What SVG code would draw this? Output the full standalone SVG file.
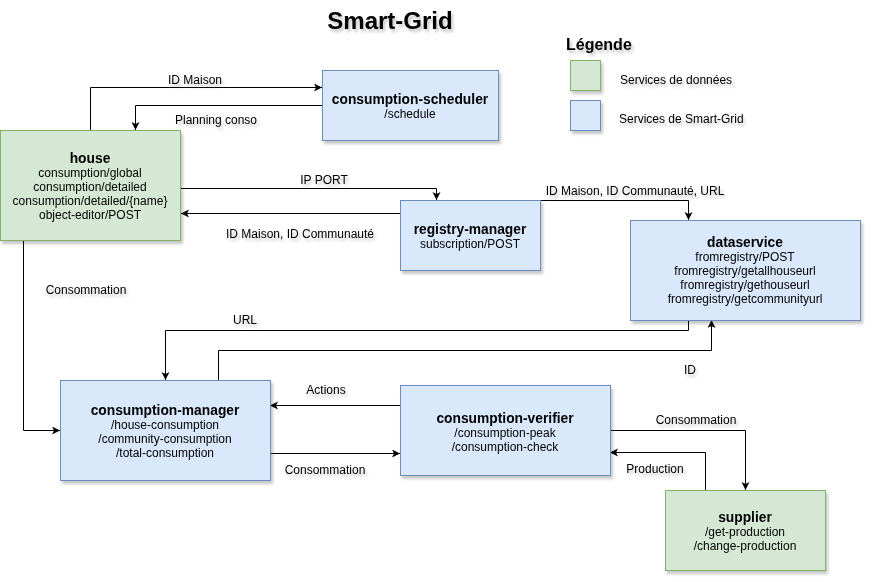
<svg xmlns="http://www.w3.org/2000/svg" width="872" height="582" viewBox="0 0 872 582">
<defs>
<filter id="sh" x="-10%" y="-10%" width="130%" height="140%">
<feDropShadow dx="2" dy="3" stdDeviation="1.5" flood-color="#000" flood-opacity="0.22"/>
</filter>
<marker id="arr" markerWidth="10" markerHeight="10" refX="8" refY="4" orient="auto" markerUnits="userSpaceOnUse">
<path d="M0,0 L8,4 L0,8 L2,4 z" fill="#000"/>
</marker>
</defs>
<style>
.blue{fill:#dae8fc;stroke:#6c8ebf;stroke-width:1}
.green{fill:#d5e8d4;stroke:#82b366;stroke-width:1}
text{font-family:"Liberation Sans",Arial,sans-serif;fill:#000}
.t{font-size:13.8px;font-weight:bold;text-anchor:middle}
.s{font-size:12px;text-anchor:middle}
.lb{font-size:12px;text-anchor:middle}
.leg{font-size:12px}
.e{fill:none;stroke:#000;stroke-width:1;marker-end:url(#arr)}
.shd{filter:url(#sh)}
</style>
<rect width="872" height="582" fill="#fff"/>
<g class="shd">
<text x="390" y="29" style="font-size:24px;font-weight:bold;text-anchor:middle">Smart-Grid</text>
</g>
<g id="legend" class="shd">
<text x="566" y="50" style="font-size:16px;font-weight:bold">Légende</text>
<rect class="green" x="570.5" y="60.5" width="30" height="30"/>
<rect class="blue" x="570.5" y="100.5" width="30" height="30"/>
<text class="leg" x="620" y="84">Services de données</text>
<text class="leg" x="619" y="123">Services de Smart-Grid</text>
</g>
<g id="connectors">
<path class="e" d="M90.5,130 V87.5 H322"/>
<path class="e" d="M322,105.5 H135.5 V130"/>
<path class="e" d="M181,188.5 H436.5 V200"/>
<path class="e" d="M400,213.5 H181"/>
<path class="e" d="M540,200.5 H688.5 V220"/>
<path class="e" d="M688.5,320 V330.5 H165.5 V380"/>
<path class="e" d="M218.5,380 V350.5 H711.5 V320"/>
<path class="e" d="M23.5,241 V430.5 H60"/>
<path class="e" d="M400,405.5 H270"/>
<path class="e" d="M270,453.5 H400"/>
<path class="e" d="M610,430.5 H745.5 V490"/>
<path class="e" d="M705.5,490 V452.5 H610"/>
<g class="shd">
<text class="lb" x="195" y="84">ID Maison</text>
<text class="lb" x="216" y="124">Planning conso</text>
<text class="lb" x="324" y="184">IP PORT</text>
<text class="lb" x="300" y="238">ID Maison, ID Communauté</text>
<text class="lb" x="635" y="195">ID Maison, ID Communauté, URL</text>
<text class="lb" x="86" y="294">Consommation</text>
<text class="lb" x="245" y="324">URL</text>
<text class="lb" x="690" y="374">ID</text>
<text class="lb" x="326" y="394">Actions</text>
<text class="lb" x="325" y="474">Consommation</text>
<text class="lb" x="696" y="424">Consommation</text>
<text class="lb" x="655" y="473">Production</text>
</g>
</g>
<g id="house" class="shd">
<rect class="green" x="0.5" y="130.5" width="180" height="110"/>
<text class="t" x="90" y="163">house</text>
<text class="s" x="90" y="177">consumption/global</text>
<text class="s" x="90" y="191">consumption/detailed</text>
<text class="s" x="90" y="205">consumption/detailed/{name}</text>
<text class="s" x="90" y="219">object-editor/POST</text>
</g>
<g id="consumption-scheduler" class="shd">
<rect class="blue" x="322.5" y="70.5" width="176" height="70"/>
<text class="t" x="410" y="104">consumption-scheduler</text>
<text class="s" x="410" y="118">/schedule</text>
</g>
<g id="registry-manager" class="shd">
<rect class="blue" x="400.5" y="200.5" width="140" height="70"/>
<text class="t" x="470" y="234">registry-manager</text>
<text class="s" x="470" y="248">subscription/POST</text>
</g>
<g id="dataservice" class="shd">
<rect class="blue" x="630.5" y="220.5" width="230" height="100"/>
<text class="t" x="745" y="247">dataservice</text>
<text class="s" x="745" y="261">fromregistry/POST</text>
<text class="s" x="745" y="275">fromregistry/getallhouseurl</text>
<text class="s" x="745" y="289">fromregistry/gethouseurl</text>
<text class="s" x="745" y="303">fromregistry/getcommunityurl</text>
</g>
<g id="consumption-manager" class="shd">
<rect class="blue" x="60.5" y="380.5" width="210" height="100"/>
<text class="t" x="165" y="415">consumption-manager</text>
<text class="s" x="165" y="429">/house-consumption</text>
<text class="s" x="165" y="443">/community-consumption</text>
<text class="s" x="165" y="457">/total-consumption</text>
</g>
<g id="consumption-verifier" class="shd">
<rect class="blue" x="400.5" y="385.5" width="210" height="90"/>
<text class="t" x="505" y="423">consumption-verifier</text>
<text class="s" x="505" y="437">/consumption-peak</text>
<text class="s" x="505" y="451">/consumption-check</text>
</g>
<g id="supplier" class="shd">
<rect class="green" x="665.5" y="490.5" width="160" height="80"/>
<text class="t" x="745" y="522">supplier</text>
<text class="s" x="745" y="536">/get-production</text>
<text class="s" x="745" y="550">/change-production</text>
</g>
</svg>
